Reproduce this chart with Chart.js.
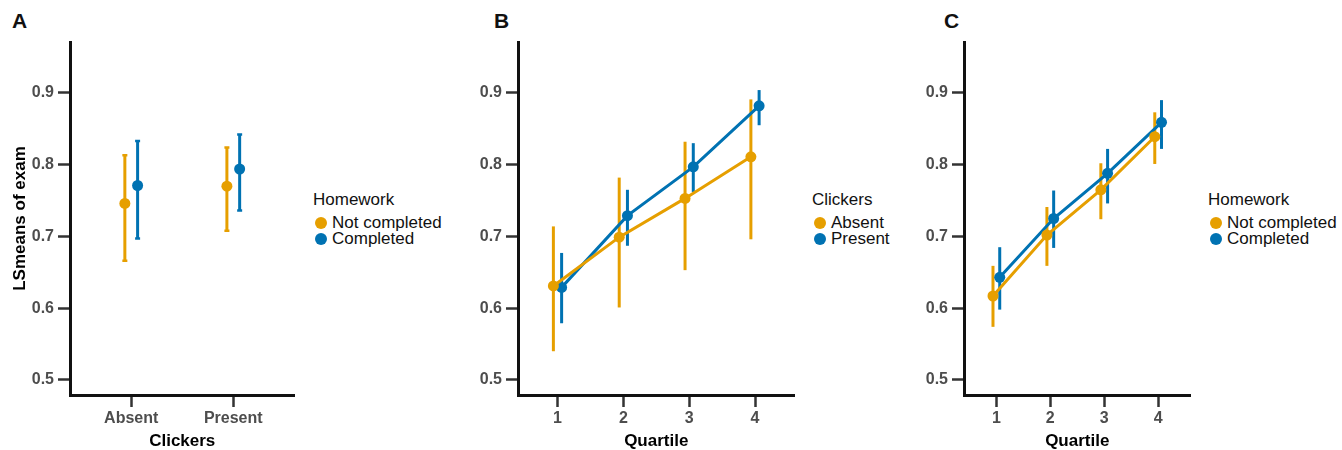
<!DOCTYPE html>
<html lang="en">
<head>
  <meta charset="utf-8"/>
  <title>LSmeans of exam</title>
  <script src="https://cdn.jsdelivr.net/npm/chart.js@4.4.0/dist/chart.umd.min.js"></script>
  <style>
    body { margin: 0; background: #fff; width: 1342px; height: 450px; position: relative; overflow: hidden;
           font-family: "Liberation Sans", Arial, Helvetica, sans-serif; }
    canvas { position: absolute; top: 0; }
    .tag { position: absolute; top: 9px; font-size: 21px; font-weight: bold; color: #111; line-height: 24px; }
    .legend { position: absolute; top: 191px; font-size: 17px; color: #111; }
    .legend .ttl { line-height: 18px; height: 24px; }
    .legend .item { line-height: 16px; height: 16px; white-space: nowrap; }
    .legend .dot { display: inline-block; width: 12px; height: 12px; border-radius: 50%;
                   vertical-align: -1px; margin-right: 5px; margin-left: 2px; }
  </style>
</head>
<body>
  <div class="tag" style="left:12px">A</div>
  <div class="tag" style="left:494px">B</div>
  <div class="tag" style="left:944px">C</div>

  <canvas id="chartA" width="300" height="450" style="left:0px"></canvas>
  <canvas id="chartB" width="350" height="450" style="left:450px"></canvas>
  <canvas id="chartC" width="296" height="450" style="left:900px"></canvas>

  <div class="legend" id="legA" style="left:313px"></div>
  <div class="legend" id="legB" style="left:812px"></div>
  <div class="legend" id="legC" style="left:1208px"></div>

  <script>
    // categories and ticks
    const clickers = ['Absent', 'Present'];
    const quartiles = ['1', '2', '3', '4'];
    const yTicks = [0.5, 0.6, 0.7, 0.8, 0.9];

    // A: homework x clickers
    const aNotMean  = [0.746, 0.770];
    const aNotLo    = [0.666, 0.708];
    const aNotHi    = [0.813, 0.824];
    const aDoneMean = [0.771, 0.794];
    const aDoneLo   = [0.697, 0.736];
    const aDoneHi   = [0.833, 0.842];

    // B: clickers x quartile
    const bAbsMean  = [0.631, 0.699, 0.753, 0.811];
    const bAbsLo    = [0.540, 0.601, 0.653, 0.696];
    const bAbsHi    = [0.714, 0.782, 0.832, 0.891];
    const bPresMean = [0.629, 0.729, 0.797, 0.882];
    const bPresLo   = [0.579, 0.687, 0.762, 0.855];
    const bPresHi   = [0.677, 0.765, 0.830, 0.904];

    // C: homework x quartile
    const cNotMean  = [0.617, 0.702, 0.765, 0.839];
    const cNotLo    = [0.574, 0.659, 0.724, 0.801];
    const cNotHi    = [0.659, 0.741, 0.802, 0.873];
    const cDoneMean = [0.643, 0.725, 0.788, 0.859];
    const cDoneLo   = [0.598, 0.684, 0.746, 0.822];
    const cDoneHi   = [0.685, 0.764, 0.822, 0.890];

    const ORANGE = '#E69F00';
    const BLUE = '#0072B2';
    const DODGE = 0.0625;

    // vertical intervals, drawn under the points and lines
    const errorBars = {
      id: 'errorBars',
      beforeDatasetsDraw(chart) {
        const ctx = chart.ctx, xs = chart.scales.x, ys = chart.scales.y;
        chart.data.datasets.forEach(ds => {
          ctx.save();
          ctx.strokeStyle = ds.borderColor;
          ctx.lineWidth = 3;
          ds.data.forEach((p, i) => {
            const x = xs.getPixelForValue(p.x);
            const top = ys.getPixelForValue(ds.hi[i]);
            const bot = ys.getPixelForValue(ds.lo[i]);
            ctx.beginPath();
            ctx.moveTo(x, top);
            ctx.lineTo(x, bot);
            ctx.stroke();
            if (ds.caps) {
              ctx.lineWidth = 2.5;
              ctx.beginPath();
              ctx.moveTo(x - 2.5, top); ctx.lineTo(x + 2.5, top);
              ctx.moveTo(x - 2.5, bot); ctx.lineTo(x + 2.5, bot);
              ctx.stroke();
              ctx.lineWidth = 3;
            }
          });
          ctx.restore();
        });
      }
    };

    function series(label, color, mean, lo, hi, shift, lines, caps) {
      return {
        label: label,
        data: mean.map((v, i) => ({ x: i + 1 + shift, y: v })),
        lo: lo, hi: hi, caps: caps,
        showLine: lines,
        borderColor: color,
        backgroundColor: color,
        borderWidth: 3,
        pointRadius: 5.5,
        pointBorderWidth: 0,
        pointHoverRadius: 5.5
      };
    }

    function makePanel(id, cats, xTitle, yTitle, yWidth, padRight, sets) {
      new Chart(document.getElementById(id), {
        type: 'scatter',
        data: { datasets: sets },
        plugins: [errorBars],
        options: {
          responsive: false,
          animation: false,
          events: [],
          layout: { padding: { top: 42, right: padRight, left: 0, bottom: 0 } },
          plugins: { legend: { display: false }, tooltip: { enabled: false } },
          scales: {
            x: {
              type: 'linear',
              min: 0.4,
              max: cats.length + 0.6,
              afterBuildTicks: s => { s.ticks = cats.map((c, i) => ({ value: i + 1 })); },
              afterFit: s => { s.height = 55; },
              ticks: {
                callback: v => cats[Math.round(v) - 1],
                font: { family: '"Liberation Sans", Arial', size: 16, weight: 'bold' },
                color: '#4d4d4d',
                padding: 2,
                maxRotation: 0
              },
              grid: { drawOnChartArea: false, drawTicks: true, tickLength: 12, tickWidth: 2.5, tickColor: '#333' },
              border: { display: true, color: '#111', width: 3 },
              title: {
                display: true, text: xTitle, color: '#000',
                font: { family: '"Liberation Sans", Arial', size: 17, weight: 'bold', lineHeight: 1 },
                padding: { top: 0, bottom: 0 }
              }
            },
            y: {
              min: 0.479,
              max: 0.971,
              afterBuildTicks: s => { s.ticks = yTicks.map(v => ({ value: v })); },
              afterFit: s => { s.width = yWidth; },
              ticks: {
                callback: v => v.toFixed(1),
                font: { family: '"Liberation Sans", Arial', size: 16, weight: 'bold' },
                color: '#4d4d4d',
                padding: 4
              },
              grid: { drawOnChartArea: false, drawTicks: true, tickLength: 12, tickWidth: 2.5, tickColor: '#333' },
              border: { display: true, color: '#111', width: 3 },
              title: {
                display: !!yTitle, text: yTitle, color: '#000',
                font: { family: '"Liberation Sans", Arial', size: 17, weight: 'bold' },
                padding: { top: 10, bottom: 0 }
              }
            }
          }
        }
      });
    }

    function makeLegend(id, title, sets) {
      const box = document.getElementById(id);
      let html = '<div class="ttl">' + title + '</div>';
      sets.forEach(s => {
        html += '<div class="item"><span class="dot" style="background:' + s.borderColor + '"></span>' + s.label + '</div>';
      });
      box.innerHTML = html;
    }

    const setsA = [
      series('Not completed', ORANGE, aNotMean, aNotLo, aNotHi, -DODGE, false, true),
      series('Completed', BLUE, aDoneMean, aDoneLo, aDoneHi, DODGE, false, true)
    ];
    const setsB = [
      series('Absent', ORANGE, bAbsMean, bAbsLo, bAbsHi, -DODGE, true, false),
      series('Present', BLUE, bPresMean, bPresLo, bPresHi, DODGE, true, false)
    ];
    const setsC = [
      series('Not completed', ORANGE, cNotMean, cNotLo, cNotHi, -DODGE, true, false),
      series('Completed', BLUE, cDoneMean, cDoneLo, cDoneHi, DODGE, true, false)
    ];

    makePanel('chartA', clickers, 'Clickers', 'LSmeans of exam', 70, 2, setsA);
    makePanel('chartB', quartiles, 'Quartile', '', 68, 3, setsB);
    makePanel('chartC', quartiles, 'Quartile', '', 64, 3, setsC);

    makeLegend('legA', 'Homework', setsA);
    makeLegend('legB', 'Clickers', setsB);
    makeLegend('legC', 'Homework', setsC);
  </script>
</body>
</html>
